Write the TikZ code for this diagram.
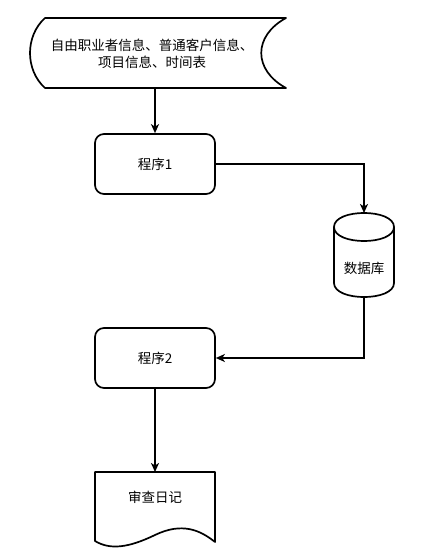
\documentclass[tikz,border=0pt]{standalone}
\usepackage{fontspec}
\setmainfont{Noto Sans CJK SC}
\usetikzlibrary{arrows.meta}
\begin{document}
\begin{tikzpicture}[x=1pt,y=-1pt,
  shp/.style={draw=black,line width=1.7pt,line join=round},
  proc/.style={shp,rounded corners=9pt,minimum width=120pt,minimum height=60pt,inner sep=0pt},
  lbl/.style={inner sep=0pt,align=center,font=\fontsize{13.5}{16.5}\selectfont},
  arr/.style={line width=1.7pt,-{Stealth[length=9pt,width=8pt,inset=2.5pt]}}]
\useasboundingbox (0,0) rectangle (434,556);
% input (stored data)
\draw[shp] (45,18) -- (286,18) .. controls (253,36) and (253,70) .. (286,88) -- (45,88) .. controls (25,70) and (25,36) .. (45,18) -- cycle;
\node[lbl,minimum width=240pt,minimum height=70pt] (in) at (152,54) {自由职业者信息、普通客户信息、\\项目信息、时间表};
% program 1
\node[proc,lbl,draw] (p1) at (155,164) {程序1};
% database cylinder
\coordinate (dbtop) at (364,213);
\coordinate (dbbot) at (364,297);
\draw[shp] (334,227) .. controls (334,208.3) and (394,208.3) .. (394,227)
  .. controls (394,245.7) and (334,245.7) .. (334,227) -- cycle;
\draw[shp] (334,227) -- (334,283) .. controls (334,301.7) and (394,301.7) .. (394,283) -- (394,227);
\node[lbl] (db) at (364,268) {数据库};
% program 2
\node[proc,lbl,draw] (p2) at (155,358) {程序2};
% document
\draw[shp] (95,472) -- (215,472) -- (215,542)
  .. controls (200,530) and (182,522) .. (155,535)
  .. controls (128,548) and (110,550) .. (95,541) -- cycle;
\node[lbl,minimum width=120pt,minimum height=50pt] (doc) at (155,497) {审查日记};
\coordinate (doctop) at (155,472);
% connectors
\draw[arr] (in.south -| p1.north) -- (p1.north);
\draw[arr] (p1.east) -| (dbtop);
\draw[arr] (dbbot) |- (p2.east);
\draw[arr] (p2.south) -- (doctop);
\end{tikzpicture}
\end{document}
